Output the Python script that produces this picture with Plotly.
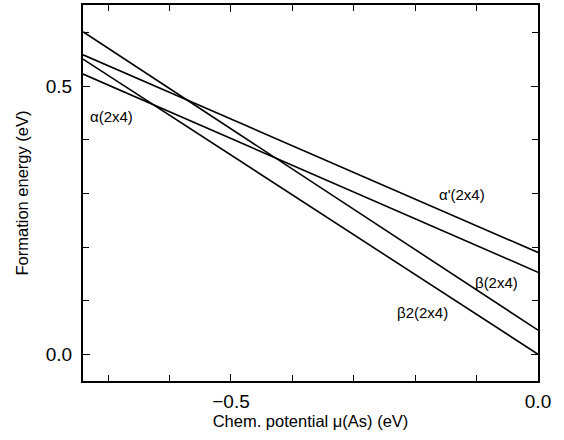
import plotly.graph_objects as go

# Chemical potential end points of each line (eV)
mu_ends = [-0.741, 0.0]

# Formation energies (eV) at the two ends of the chemical potential range
alpha_2x4 = [0.523, 0.153]
alpha_p_2x4 = [0.559, 0.190]
beta_2x4 = [0.602, 0.045]
beta2_2x4 = [0.551, 0.0]

series = [alpha_2x4, alpha_p_2x4, beta_2x4, beta2_2x4]

# Text labels and their positions (data coordinates)
label_text = ["\u03b1(2x4)", "\u03b1'(2x4)", "\u03b2(2x4)", "\u03b22(2x4)"]
label_x = [-0.733, -0.164, -0.106, -0.233]
label_y = [0.444, 0.299, 0.134, 0.078]

FONT = "Liberation Sans, Arial, Helvetica, sans-serif"

fig = go.Figure()
for vals in series:
    fig.add_trace(go.Scatter(
        x=mu_ends, y=vals, mode="lines",
        line=dict(color="black", width=1.6),
        showlegend=False, hoverinfo="skip",
    ))

for t, lx, ly in zip(label_text, label_x, label_y):
    fig.add_annotation(
        x=lx, y=ly, xref="x", yref="y", text=t, showarrow=False,
        xanchor="left", yanchor="middle",
        font=dict(family=FONT, size=15, color="black"),
    )

axis_common = dict(
    showgrid=False, zeroline=False,
    showline=True, linecolor="black", linewidth=2, mirror="ticks",
    ticks="inside", ticklen=7, tickwidth=1.3, tickcolor="black",
    tickfont=dict(family=FONT, size=19, color="black"),
    tickformat=".1f",
    minor=dict(dtick=0.1, ticks="inside", ticklen=6, tickwidth=1.3, tickcolor="black"),
)

fig.update_xaxes(
    range=[-0.741, 0.0], tick0=0, dtick=0.5,
    title=dict(text="Chem. potential \u03bc(As) (eV)", standoff=4,
               font=dict(family=FONT, size=16.5, color="black")),
    ticklabelstandoff=2,
    **axis_common,
)
fig.update_yaxes(
    range=[-0.050, 0.652], tick0=0, dtick=0.5,
    title=dict(text="Formation energy (eV)", standoff=13,
               font=dict(family=FONT, size=16.5, color="black")),
    ticklabelstandoff=5,
    **axis_common,
)

fig.update_layout(
    width=564, height=440,
    margin=dict(l=83, r=26, t=3, b=59),
    paper_bgcolor="white", plot_bgcolor="white",
    font=dict(family=FONT, color="black"),
)

fig.write_html("out.html")
